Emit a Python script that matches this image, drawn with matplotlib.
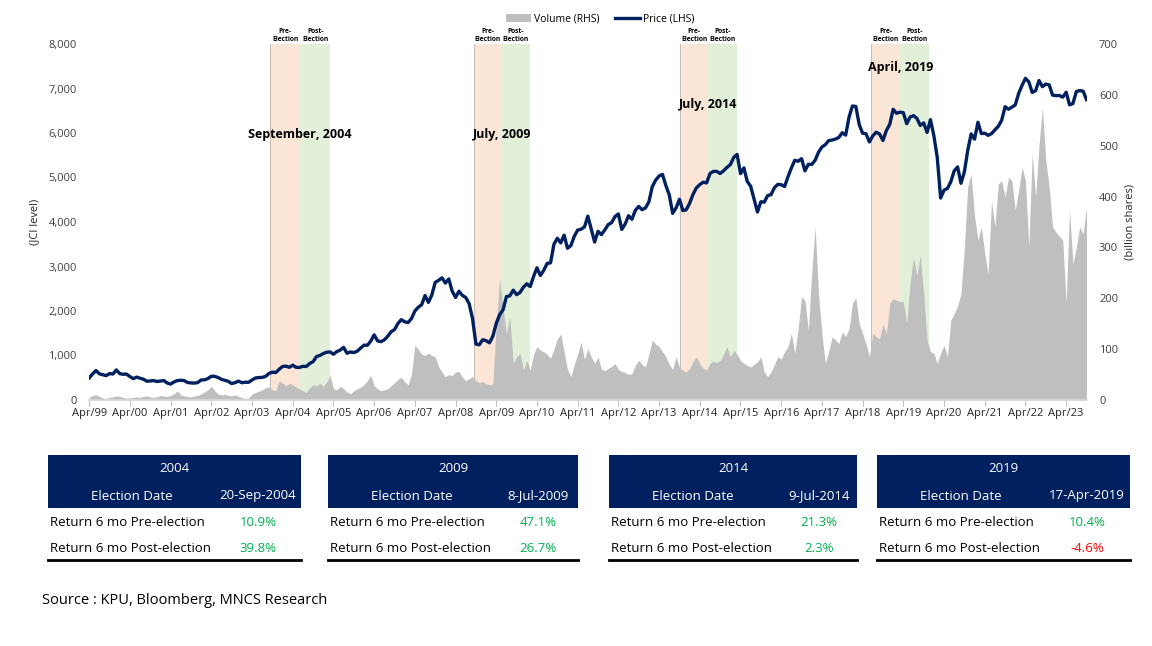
import numpy as np
import matplotlib
matplotlib.use("Agg")
import matplotlib.pyplot as plt
from matplotlib.patches import Patch, Rectangle
from matplotlib.lines import Line2D

plt.rcParams['font.family'] = ['Open Sans', 'DejaVu Sans']

# monthly JCI close, Apr-1999 .. Oct-2023
price = [
    495, 585, 662, 588, 568, 548, 593, 584, 676,                      # 1999
    592, 578, 583, 526, 480, 515, 489, 467, 421, 429, 436, 416,       # 2000
    426, 436, 381, 358, 406, 437, 444, 436, 393, 383, 380, 392,       # 2001
    451, 453, 481, 534, 531, 505, 463, 443, 419, 369, 390, 425,       # 2002
    389, 400, 398, 450, 494, 505, 508, 530, 597, 626, 617, 691,       # 2003
    753, 761, 735, 783, 733, 732, 757, 754, 820, 861, 977, 1000,      # 2004
    1045, 1073, 1080, 1029, 1088, 1122, 1182, 1050, 1079, 1066, 1096, 1163,  # 2005
    1232, 1230, 1323, 1465, 1330, 1310, 1351, 1431, 1534, 1582, 1718, 1805,  # 2006
    1757, 1741, 1830, 1999, 2084, 2139, 2348, 2194, 2359, 2643, 2688, 2746,  # 2007
    2627, 2721, 2447, 2304, 2444, 2350, 2304, 2166, 1832, 1256, 1241, 1355,  # 2008
    1333, 1285, 1434, 1723, 1917, 2027, 2323, 2341, 2468, 2368, 2416, 2534,  # 2009
    2611, 2549, 2777, 2971, 2797, 2914, 3069, 3082, 3501, 3635, 3531, 3704,  # 2010
    3410, 3471, 3679, 3819, 3837, 3889, 4131, 3842, 3549, 3791, 3716, 3822,  # 2011
    3942, 3985, 4122, 4181, 3833, 3956, 4142, 4061, 4263, 4350, 4276, 4317,  # 2012
    4454, 4796, 4941, 5034, 5069, 4819, 4610, 4195, 4316, 4510, 4256, 4274,  # 2013
    4419, 4620, 4768, 4840, 4894, 4879, 5089, 5137, 5138, 5090, 5150, 5227,  # 2014
    5289, 5450, 5519, 5086, 5216, 4911, 4803, 4510, 4224, 4455, 4446, 4593,  # 2015
    4615, 4771, 4845, 4839, 4797, 5017, 5216, 5386, 5365, 5423, 5149, 5297,  # 2016
    5294, 5387, 5568, 5685, 5738, 5830, 5841, 5864, 5901, 6006, 5952, 6356,  # 2017
    6606, 6597, 6189, 5995, 5984, 5799, 5936, 6018, 5977, 5832, 6056, 6194,  # 2018
    6533, 6443, 6469, 6455, 6209, 6359, 6391, 6328, 6169, 6228, 6012, 6300,  # 2019
    5940, 5453, 4539, 4716, 4754, 4905, 5149, 5238, 4870, 5128, 5612, 5979,  # 2020
    5862, 6242, 5986, 5996, 5947, 5985, 6070, 6150, 6287, 6591, 6534, 6581,  # 2021
    6631, 6888, 7071, 7229, 7149, 6912, 6951, 7179, 7041, 7099, 7081, 6851,  # 2022
    6839, 6843, 6805, 6916, 6633, 6662, 6931, 6953, 6940, 6752,              # 2023
]

# monthly traded volume (billion shares), same months
volume = [
    5, 9, 10, 7, 4, 3, 5, 6, 8, 7, 5, 4,
    4, 5, 6, 5, 7, 8, 6, 5, 6, 9, 8, 7,
    9, 12, 18, 10, 8, 7, 6, 8, 9, 12, 16, 20,
    27, 18, 12, 10, 11, 9, 8, 10, 7, 5, 3, 4,
    12, 15, 17, 20, 24, 26, 20, 18, 38, 33, 28, 33,
    30, 25, 22, 18, 15, 24, 30, 28, 33, 27, 35, 49,
    22, 20, 27, 22, 16, 12, 18, 22, 25, 30, 38, 49,
    28, 22, 18, 20, 22, 28, 34, 40, 45, 36, 30, 50,
    108, 100, 90, 88, 92, 88, 85, 66, 55, 46, 50, 48,
    55, 56, 45, 38, 42, 46, 38, 34, 36, 32, 30, 32,
    150, 239, 180, 130, 165, 72, 85, 92, 59, 78, 59, 90,
    105, 98, 95, 90, 82, 100, 120, 130, 95, 60, 46, 70,
    90, 114, 80, 101, 85, 72, 85, 60, 58, 62, 66, 72,
    60, 56, 54, 50, 52, 68, 78, 70, 65, 90, 118, 110,
    105, 95, 85, 70, 60, 85, 65, 58, 55, 62, 75, 85,
    72, 62, 59, 72, 76, 74, 78, 90, 105, 85, 98, 90,
    78, 72, 68, 65, 70, 75, 85, 55, 46, 55, 70, 85,
    80, 95, 105, 131, 92, 140, 203, 196, 137, 250, 340, 209,
    131, 72, 95, 124, 118, 111, 134, 125, 140, 190, 202, 150,
    131, 110, 85, 131, 124, 121, 150, 130, 190, 199, 196, 194,
    193, 150, 230, 281, 245, 284, 209, 118, 95, 92, 72, 92,
    108, 85, 157, 170, 185, 209, 300, 420, 444, 360, 314, 340,
    288, 248, 392, 340, 425, 431, 399, 438, 431, 373, 412, 458,
    431, 301, 484, 399, 500, 575, 471, 418, 340, 330, 322, 314,
    190, 373, 268, 300, 340, 327, 379,
]

tick_years = list(range(1999, 2024))

# election windows in months since Apr-1999: pre start, election, post end
band_start = [53.4, 113.3, 174.2, 230.5]
band_mid = [62.2, 121.7, 182.5, 239.1]
band_end = [71.1, 129.9, 190.9, 247.6]
event_labels = ['September, 2004', 'July, 2009', 'July, 2014', 'April, 2019']
event_level = [5960, 5960, 6650, 7470]

# tables
tbl_years = ['2004', '2009', '2014', '2019']
tbl_dates = ['20-Sep-2004', '8-Jul-2009', '9-Jul-2014', '17-Apr-2019']
ret_pre = [10.9, 47.1, 21.3, 10.4]
ret_post = [39.8, 26.7, 2.3, -4.6]

navy = '#002060'
vol_grey = '#BFBFBF'
pre_col = '#FBE5D6'
post_col = '#E2F0D9'

W, H = 1152, 646
fig = plt.figure(figsize=(W / 100, H / 100), dpi=100)
x0, x1, ytop, ybot = 89.2, 1086.5, 44, 400
ax = fig.add_axes([x0 / W, 1 - ybot / H, (x1 - x0) / W, (ybot - ytop) / H])
ax2 = ax.twinx()

months = np.arange(len(price))

# bands + volume on the RHS axis
for a, m, b in zip(band_start, band_mid, band_end):
    ax.axvspan(a, m, color=pre_col, zorder=0, lw=0)
    ax.axvline(a, color='#BFB5AE', lw=0.6, zorder=0.5)
    ax.axvspan(m, b, color=post_col, zorder=0, lw=0)
    ax.text((a + m) / 2, 1.004, 'Pre-\nElection', transform=ax.get_xaxis_transform(),
            ha='center', va='bottom', fontsize=4.8, fontweight='bold', linespacing=1.1)
    ax.text((m + b) / 2, 1.004, 'Post-\nElection', transform=ax.get_xaxis_transform(),
            ha='center', va='bottom', fontsize=4.8, fontweight='bold', linespacing=1.1)

ax.fill_between(months, volume, 0, color=vol_grey, lw=0, zorder=1)
ax.set_ylim(0, 700)
ax.set_yticks(range(0, 701, 100))
ax.yaxis.tick_right()
ax.tick_params(axis='y', length=0, pad=9, labelsize=8, colors='#404040')

# price line on LHS axis
ax2.plot(months, price, color=navy, lw=2.4, zorder=3)
ax2.set_ylim(0, 8000)
ax2.set_yticks(range(0, 8001, 1000))
ax2.set_yticklabels([f'{v:,}' for v in range(0, 8001, 1000)])
ax2.yaxis.tick_left()
ax2.tick_params(axis='y', length=0, pad=9, labelsize=8, colors='#404040')

for xm, lab, lv in zip(band_mid, event_labels, event_level):
    ax2.text(xm, lv, lab, ha='center', va='center', fontsize=9, fontweight='bold', zorder=4)

ax.set_xlim(0, len(price) - 1)
xt = [(y - 1999) * 12 for y in tick_years]
ax.set_xticks(xt)
ax.set_xticklabels([f'Apr/{y % 100:02d}' for y in tick_years])
ax.tick_params(axis='x', length=4, color='#BFBFBF', labelsize=8, pad=2,
               labelcolor='#262626')

for a in (ax, ax2):
    for s in ('top', 'left', 'right', 'bottom'):
        a.spines[s].set_visible(False)
ax.spines['bottom'].set_visible(True)
ax.spines['bottom'].set_color('#D9D9D9')
ax.spines['bottom'].set_linewidth(1.2)

fig.text(35 / W, 1 - 222 / H, '(JCI level)', rotation=90, ha='center', va='center',
         fontsize=8, color='#262626')
fig.text(1130 / W, 1 - 222 / H, '(billion shares)', rotation=90, ha='center', va='center',
         fontsize=8, color='#262626')

handles = [Patch(facecolor=vol_grey, edgecolor='none', label='Volume (RHS)'),
           Line2D([0], [0], color=navy, lw=2.4, label='Price (LHS)')]
fig.legend(handles=handles, loc='center', bbox_to_anchor=(600 / W, 1 - 19 / H), ncol=2,
           frameon=False, fontsize=7.5, handlelength=2.4, handleheight=0.9,
           columnspacing=1.5, handletextpad=0.3)

# tables drawn in pixel space
tax = fig.add_axes([0, 0, 1, 1], zorder=-1)
tax.set_xlim(0, W)
tax.set_ylim(H, 0)
tax.axis('off')

tbl_x0 = [48, 328, 609, 877]
tbl_x1 = [301, 578, 857, 1130]
for i in range(4):
    a, b = tbl_x0[i], tbl_x1[i]
    tax.add_patch(Rectangle((a, 455), b - a, 53, color=navy, lw=0))
    tax.text((a + b) / 2, 469, tbl_years[i], color='white', ha='center', va='center', fontsize=9.5)
    tax.text(a + 84, 496, 'Election Date', color='white', ha='center', va='center', fontsize=9.5)
    tax.text(a + 210, 496, tbl_dates[i], color='white', ha='center', va='center', fontsize=9.5)
    tax.text(a + 2, 522, 'Return 6 mo Pre-election', ha='left', va='center', fontsize=9.5)
    tax.text(a + 2, 548, 'Return 6 mo Post-election', ha='left', va='center', fontsize=9.5)
    for yy, v in ((522, ret_pre[i]), (548, ret_post[i])):
        tax.text(a + 210, yy, f'{v:.1f}%', ha='center', va='center', fontsize=9.5,
                 color='#00B050' if v >= 0 else '#FF0000')
    tax.plot([a, b], [560, 560], color='black', lw=2)

tax.text(42, 601, 'Source : KPU, Bloomberg, MNCS Research', ha='left', va='center', fontsize=10.5)

fig.savefig('out.png', dpi=100)
